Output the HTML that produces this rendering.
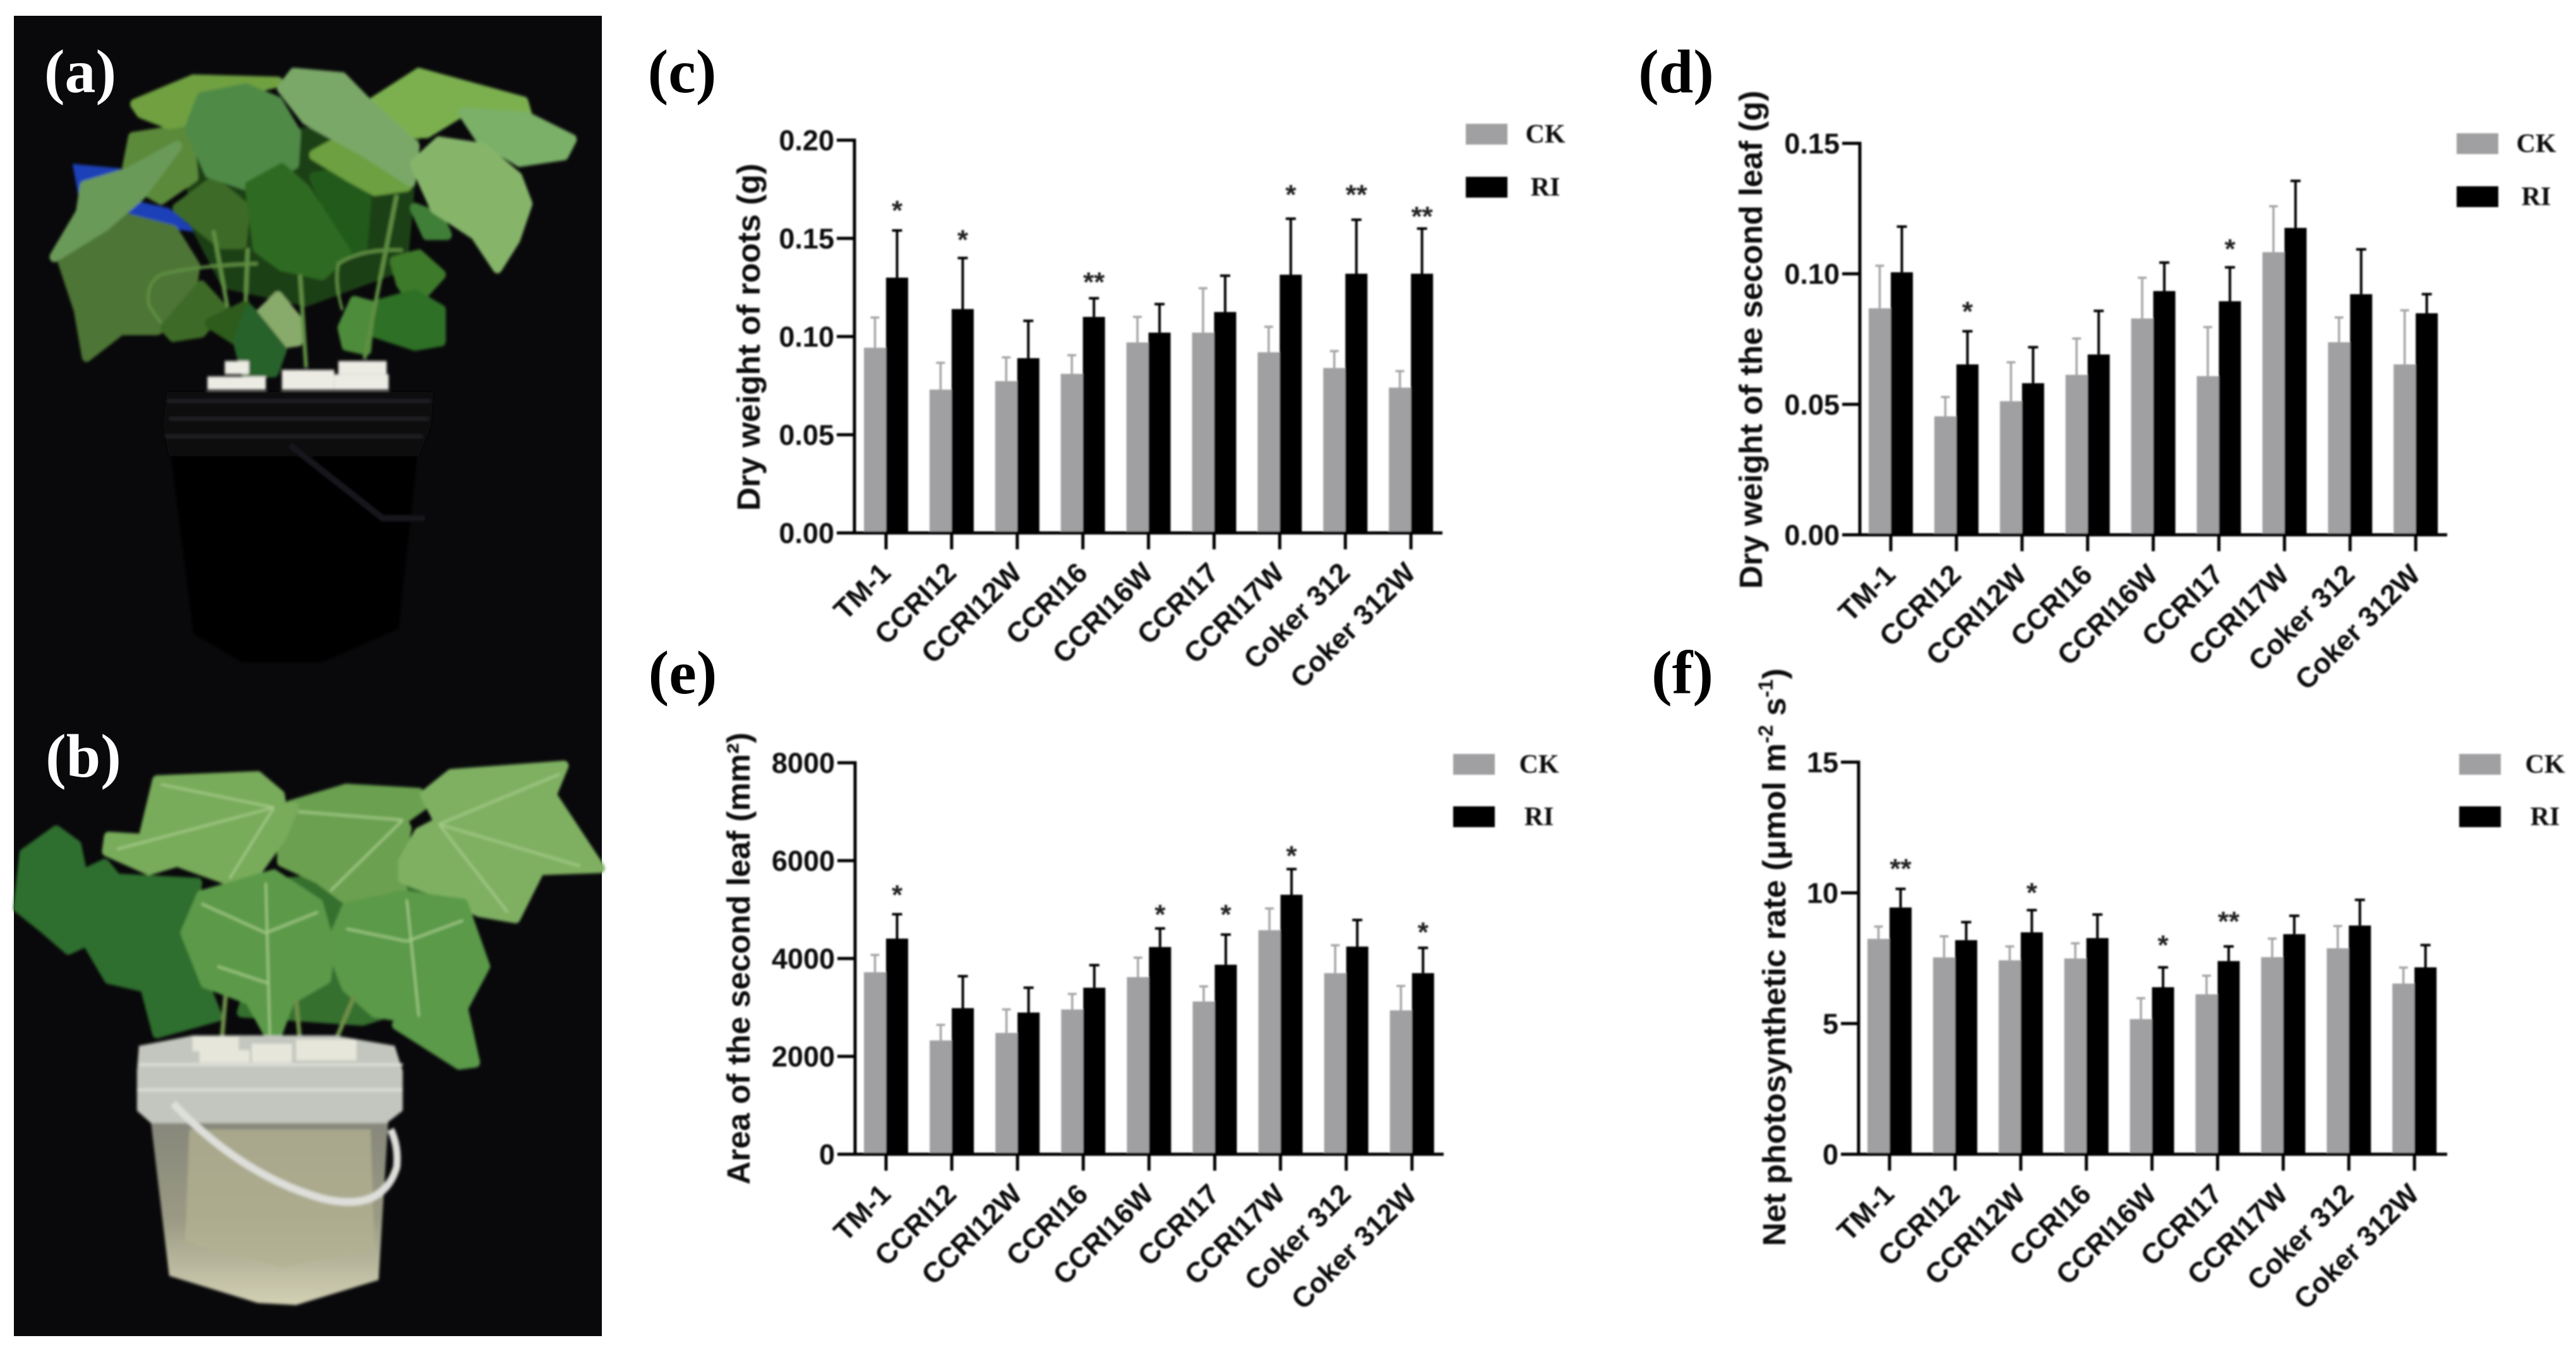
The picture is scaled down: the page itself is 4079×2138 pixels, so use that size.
<!DOCTYPE html>
<html lang="en">
<head>
<meta charset="utf-8">
<title>Cotton seedling root-restriction figure</title>
<style>
html,body{margin:0;padding:0;background:#fff;}
body{width:4079px;height:2138px;overflow:hidden;}
svg{position:absolute;left:0;top:0;display:block;}
.sans{font-family:"Liberation Sans",Arial,sans-serif;font-weight:700;}
.serif{font-family:"Liberation Serif","Times New Roman",serif;font-weight:700;}
.leafy polygon{stroke-width:24;stroke-linejoin:round;}
</style>
</head>
<body>
<svg id="figure" xmlns="http://www.w3.org/2000/svg" width="4079" height="2138" viewBox="0 0 4079 2138">
  <defs>
    <filter id="soft" x="-5%" y="-5%" width="110%" height="110%"><feGaussianBlur stdDeviation="3.5"/></filter>
    <filter id="softChart" x="-5%" y="-5%" width="110%" height="110%"><feGaussianBlur stdDeviation="1.2"/></filter>
    <linearGradient id="tubBody" x1="0" y1="0" x2="0" y2="1">
      <stop offset="0" stop-color="#85857a"/><stop offset="0.55" stop-color="#9a9a84"/><stop offset="1" stop-color="#d3d1b4"/>
    </linearGradient>
  </defs>
  <rect x="0" y="0" width="4079" height="2138" fill="#ffffff"/>

  <g>
    <rect x="22" y="25" width="931" height="2091" fill="#09090b"/>
  </g>

  <g transform="scale(0.63776,0.70151)" filter="url(#soft)">
    <polygon points="180,370 300,380 320,450 420,470 490,525 420,515 300,475 200,470" fill="#1c3fb8"/>
    <g class="leafy">
      <polygon points="470,300 1030,300 1000,600 760,680 560,640 480,500" fill="#1d4015"/>
      <polygon points="155,590 300,490 430,520 485,600 470,700 390,745 300,745 215,805 195,700" fill="#4d7535"/>
      <polygon points="315,380 330,310 470,290 480,400 400,450 340,420" fill="#5c8a3a"/>
      <polygon points="135,580 200,480 210,420 320,390 440,330 350,440 260,510" fill="#6a9a58"/>
      <polygon points="335,235 480,180 690,185 600,205 480,270 420,280 350,255" fill="#6fa040"/>
      <polygon points="440,470 530,410 610,470 600,550 550,550 480,500" fill="#3c6a25"/>
      <polygon points="470,290 500,220 610,200 690,230 735,300 730,370 620,420 520,390" fill="#4f8a46"/>
      <polygon points="780,400 850,390 910,450 900,560 860,570" fill="#245a1c"/>
      <polygon points="620,420 700,380 760,430 860,570 800,620 700,600 640,560" fill="#2f6a20"/>
      <polygon points="780,350 840,320 1010,420 930,430 870,400" fill="#6ca040"/>
      <polygon points="920,235 1040,165 1300,230 1310,262 1150,250 1060,300 1000,300" fill="#7cb050"/>
      <polygon points="700,200 730,165 850,175 920,240 1030,330 1020,410 900,340 760,270" fill="#7aa868"/>
      <polygon points="1150,255 1310,265 1420,315 1400,350 1290,365 1190,310" fill="#7ab068"/>
      <polygon points="1030,470 1090,490 1110,530 1060,530" fill="#3f7f38"/>
      <polygon points="1030,370 1090,320 1200,335 1285,400 1310,460 1280,540 1235,605 1180,530 1080,470" fill="#86b56a"/>
      <polygon points="980,590 1040,575 1095,620 1030,685 995,640" fill="#3e7a2c"/>
      <polygon points="930,690 1030,665 1095,700 1095,770 1030,780 930,750" fill="#2e7028"/>
      <polygon points="850,740 880,680 920,690 910,790 860,780" fill="#4e8c3a"/>
      <polygon points="410,740 500,645 550,695 500,750 430,760" fill="#3e6a28"/>
      <polygon points="645,710 690,670 745,730 740,770 700,775" fill="#88aa6a"/>
      <polygon points="520,730 610,690 620,720 590,770" fill="#2d5c1e"/>
      <polygon points="590,770 620,700 700,790 680,840 610,840" fill="#27622a"/>
    </g>
    <g fill="none" stroke="#5f8f42" stroke-width="10">
      <path d="M745,620 L760,830"/>
      <path d="M985,440 L905,810"/>
      <path d="M530,520 L565,695"/>
      <path d="M615,560 L610,680"/>
      <path d="M640,595 Q480,600 400,620 Q360,640 370,690 L400,730" stroke-width="7"/>
      <path d="M1000,565 Q900,560 840,595 Q830,640 850,700" stroke-width="7"/>
    </g>
    <g fill="#ecece4">
      <rect x="558" y="815" width="60" height="30"/>
      <rect x="840" y="815" width="120" height="30"/>
      <rect x="515" y="850" width="145" height="30"/>
      <rect x="700" y="835" width="130" height="45"/>
      <rect x="830" y="845" width="135" height="35"/>
    </g>
    <g>
      <path d="M420,1000 L1040,1000 L990,1420 L800,1495 L600,1495 L480,1430 Z" fill="#020203"/>
      <path d="M415,885 L1075,885 L1070,960 L1040,1030 L420,1030 L405,960 Z" fill="#0b0b0d"/>
      <path d="M415,905 L1070,905 M420,945 L1065,945 M410,985 L1050,985" stroke="#232326" stroke-width="7" fill="none"/>
      <path d="M720,1005 L950,1170 L1055,1170" stroke="#17171a" stroke-width="14" fill="none"/>
    </g>
  </g>

  <g transform="translate(0,1100) scale(0.63776,0.66225)" filter="url(#soft)">
    <g class="leafy">
      <polygon points="45,510 60,380 140,325 190,360 205,430 260,405 290,440 490,450 470,600 540,770 390,810 360,700 270,680 215,590 170,610 110,560" fill="#2f6e2e"/>
      <polygon points="700,450 1100,420 1160,700 900,780 600,760" fill="#346f2e"/>
      <polygon points="720,265 860,225 1040,235 1050,265 1000,300 1010,320 990,430 1000,470 860,490 790,440 700,400 700,340" fill="#6aa050"/>
      <polygon points="1055,240 1120,190 1400,170 1370,240 1490,415 1340,420 1280,535 1190,520 1080,470 1000,440 1000,400 1040,330 1090,305" fill="#7fb062"/>
      <polygon points="390,205 640,195 695,240 700,270 730,270 700,340 640,420 570,445 440,400 370,420 265,375 270,340 355,345" fill="#78ab5a"/>
      <polygon points="820,600 860,510 1000,480 1150,500 1205,650 1150,750 1180,880 1140,885 985,790 1050,780 930,760 860,700" fill="#5a9a48"/>
      <polygon points="460,570 500,480 680,430 790,500 820,600 810,680 720,730 680,835 620,730 510,690" fill="#5c9a4a"/>
    </g>
    <g fill="none" stroke="#a4cb88" stroke-width="5">
      <path d="M660,450 L670,820 M660,570 L500,500 M660,570 L790,520 M665,690 L540,650"/>
      <path d="M1010,490 L1040,770 M1010,590 L860,560 M1010,590 L1150,540"/>
      <path d="M1090,310 L1260,520 M1090,310 L1390,190 M1090,310 L1440,410"/>
      <path d="M680,270 L570,440 M680,270 L400,215 M680,270 L290,370"/>
      <path d="M1000,300 L820,470 M1000,300 L740,280"/>
    </g>
    <g fill="none" stroke="#6d8f4a" stroke-width="11">
      <path d="M560,720 L550,835"/>
      <path d="M735,730 L745,830"/>
      <path d="M880,720 L830,835"/>
    </g>
    <g>
      <polygon points="372,1000 965,1000 940,1400 735,1460 640,1455 420,1390" fill="url(#tubBody)"/>
      <polygon points="470,1040 920,1040 930,1330 700,1370 460,1310" fill="#b3b292" opacity="0.75"/>
      <polygon points="345,840 480,815 830,815 980,840 1000,900 1000,995 960,1025 375,1025 340,995 340,900" fill="#c2c6be"/>
      <path d="M345,885 L1000,885 M340,945 L1000,945" stroke="#dfe1da" stroke-width="6" fill="none"/>
    </g>
    <g fill="#e6e6da">
      <rect x="478" y="818" width="115" height="35"/>
      <rect x="495" y="850" width="125" height="30"/>
      <rect x="625" y="835" width="100" height="45"/>
      <rect x="735" y="825" width="150" height="50"/>
    </g>
    <path d="M430,978 Q600,1150 800,1205 Q950,1240 985,1130 Q990,1080 970,1040" fill="none" stroke="#dedfda" stroke-width="18"/>
  </g>

  <g class="serif" font-size="98">
    <text x="127" y="146" text-anchor="middle" fill="#ffffff">(a)</text>
    <text x="132" y="1230" text-anchor="middle" fill="#ffffff">(b)</text>
    <text x="1080" y="146" text-anchor="middle" fill="#000000">(c)</text>
    <text x="2654" y="146" text-anchor="middle" fill="#000000">(d)</text>
    <text x="1081" y="1098" text-anchor="middle" fill="#000000">(e)</text>
    <text x="2664" y="1098" text-anchor="middle" fill="#000000">(f)</text>
  </g>

  <g id="charts" filter="url(#softChart)"></g>
</svg>

<script>
// ---------- shared data ----------
const categoriesCE = ['TM-1','CCRI12','CCRI12W','CCRI16','CCRI16W','CCRI17','CCRI17W','Coker 312','Coker 312W'];
const seriesNames = ['CK','RI'];

// ---------- panel c : dry weight of roots ----------
const cTickLabels = ['0.00','0.05','0.10','0.15','0.20'];
const cCk    = [0.0943,0.0730,0.0773,0.0810,0.0970,0.1020,0.0920,0.0840,0.0740];
const cCkErr = [0.1097,0.0866,0.0894,0.0905,0.1100,0.1246,0.1050,0.0926,0.0824];
const cRi    = [0.1300,0.1140,0.0890,0.1100,0.1020,0.1125,0.1315,0.1320,0.1320];
const cRiErr = [0.1540,0.1400,0.1080,0.1195,0.1165,0.1310,0.1600,0.1595,0.1550];
const cStars      = ['*','*','','**','','','*','**','**'];
const cStarLevels = [0.1676,0.1526,0,0.1311,0,0,0.1755,0.1755,0.1644];

// ---------- panel d : dry weight of the second leaf ----------
const dTickLabels = ['0.00','0.05','0.10','0.15'];
const dCk    = [0.0868,0.0454,0.0512,0.0613,0.0829,0.0608,0.1083,0.0738,0.0653];
const dCkErr = [0.1031,0.0528,0.0661,0.0752,0.0985,0.0796,0.1259,0.0833,0.0860];
const dRi    = [0.1006,0.0653,0.0581,0.0691,0.0934,0.0895,0.1176,0.0922,0.0849];
const dRiErr = [0.1181,0.0780,0.0719,0.0858,0.1043,0.1025,0.1356,0.1094,0.0922];
const dStars      = ['','*','','','','*','','',''];
const dStarLevels = [0,0.0881,0,0,0,0.1120,0,0,0];

// ---------- panel e : area of the second leaf ----------
const eTickLabels = ['0','2000','4000','6000','8000'];
const eCk    = [3720,2326,2480,2959,3620,3122,4579,3701,2941];
const eCkErr = [4072,2643,2959,3276,4018,3430,5023,4271,3439];
const eRi    = [4407,2986,2896,3403,4235,3873,5303,4244,3701];
const eRiErr = [4905,3638,3403,3864,4615,4489,5828,4787,4217];
const eStars      = ['*','','','','*','*','*','','*'];
const eStarLevels = [5430,0,0,0,5032,5032,6235,0,4670];

// ---------- panel f : net photosynthetic rate ----------
const fTickLabels = ['0','5','10','15'];
const fCk    = [8.24,7.53,7.42,7.49,5.17,6.12,7.54,7.88,6.53];
const fCkErr = [8.71,8.34,7.95,8.07,5.97,6.83,8.25,8.73,7.14];
const fRi    = [9.44,8.19,8.49,8.27,6.39,7.39,8.42,8.75,7.15];
const fRiErr = [10.15,8.88,9.34,9.17,7.15,7.95,9.12,9.73,8.00];
const fStars      = ['**','','*','','*','**','','',''];
const fStarLevels = [11.17,0,10.25,0,8.25,9.15,0,0,0];

// ---------- leaf outlines take their own fill colour, which rounds and fattens them ----------
document.querySelectorAll('.leafy polygon').forEach(function (leaf) {
  leaf.setAttribute('stroke', leaf.getAttribute('fill'));
});

// ---------- drawing ----------
const SVG_NS = 'http://www.w3.org/2000/svg';
const chartsRoot = document.getElementById('charts');

function make(tag, attrs, parent, text) {
  const node = document.createElementNS(SVG_NS, tag);
  for (const key in attrs) node.setAttribute(key, attrs[key]);
  if (text !== undefined) node.textContent = text;
  parent.appendChild(node);
  return node;
}

function drawChart(p) {
  const group = make('g', {}, chartsRoot);
  
  

  const tickValues = p.ticks.map(Number);
  const maxValue = tickValues[tickValues.length - 1];
  const yScale = v => p.y0 - (v / maxValue) * (p.y0 - p.yTop);
  const xScale = i => p.x1 + i * p.step;
  const barW = 35;

  // bars and error bars
  p.ck.forEach((v, i) => {
    const cx = xScale(i) - barW / 2;
    const whisker = make('path', {
      d: 'M' + cx + ' ' + yScale(v) + 'V' + yScale(p.ckErr[i]) + 'm-7 0h14',
      stroke: '#a6a6a9', 'stroke-width': 3.5, fill: 'none'
    }, group);
    
    
    const bar = make('rect', {
      x: xScale(i) - barW, y: yScale(v), width: barW, height: p.y0 - yScale(v), fill: '#a0a0a3'
    }, group);
    
    
  });
  p.ri.forEach((v, i) => {
    const cx = xScale(i) + barW / 2;
    const whisker = make('path', {
      d: 'M' + cx + ' ' + yScale(v) + 'V' + yScale(p.riErr[i]) + 'm-8 0h16',
      stroke: '#000', 'stroke-width': 4, fill: 'none'
    }, group);
    
    
    const bar = make('rect', {
      x: xScale(i), y: yScale(v), width: barW, height: p.y0 - yScale(v), fill: '#000'
    }, group);
    
    
  });

  // significance marks
  p.stars.forEach((s, i) => {
    if (!s) return;
    const mark = make('text', {
      x: xScale(i) + barW / 2, y: yScale(p.starLevels[i]) + 25, 'text-anchor': 'middle',
      'font-size': 44, fill: '#222', class: 'sans'
    }, group, s);
    
    
  });

  // axes
  const yAxis = make('line', {
    x1: p.x0, x2: p.x0, y1: p.yTop - 2.5, y2: p.y0 + 2.5, stroke: '#000', 'stroke-width': 5
  }, group);
  
  
  const xAxis = make('line', {
    x1: p.x0 - 28, x2: p.xEnd, y1: p.y0, y2: p.y0, stroke: '#000', 'stroke-width': 5
  }, group);
  
  

  // y ticks
  p.ticks.forEach((label, i) => {
    const ty = yScale(tickValues[i]);
    const tick = make('line', {
      x1: p.x0 - 28, x2: p.x0, y1: ty, y2: ty, stroke: '#000', 'stroke-width': 5
    }, group);
    
    
    const txt = make('text', {
      x: p.x0 - 32, y: ty + 16, 'text-anchor': 'end', 'font-size': 45, fill: '#111', class: 'sans'
    }, group, label);
    
    
  });

  // x ticks and labels
  p.categories.forEach((label, i) => {
    const tx = xScale(i);
    const tick = make('line', {
      x1: tx, x2: tx, y1: p.y0, y2: p.y0 + 26, stroke: '#000', 'stroke-width': 5
    }, group);
    
    
    const txt = make('text', {
      transform: 'translate(' + (tx + 10) + ',' + (p.y0 + 66) + ') rotate(-45)',
      'text-anchor': 'end', 'font-size': 45, fill: '#111', class: 'sans'
    }, group, label);
    
    
  });

  // y axis title
  const title = make('text', {
    transform: 'translate(' + p.titleX + ',' + p.titleY + ') rotate(-90)',
    'text-anchor': 'middle', 'font-size': 51, fill: '#111', class: 'sans',
    textLength: p.titleLen, lengthAdjust: 'spacingAndGlyphs'
  }, group);
  
  
  p.title.forEach(seg => {
    const span = make('tspan', seg.sup ? { 'font-size': 32, dy: -20 } : (seg.after ? { dy: 20 } : {}), title, seg.t);
    
    
  });

  // legend
  seriesNames.forEach((name, i) => {
    const ly = i === 0 ? p.legendY : p.legendY + p.legendGap;
    const swatch = make('rect', {
      x: p.legendX, y: ly, width: 66, height: 33, fill: i === 0 ? '#a0a0a3' : '#000'
    }, group);
    
    
    const txt = make('text', {
      x: p.legendTextX, y: ly + 30, 'text-anchor': 'middle', 'font-size': 42, fill: '#111', class: 'serif'
    }, group, name);
    
    
  });
}

drawChart({
  id: 'c', categories: categoriesCE, ticks: cTickLabels, ck: cCk, ckErr: cCkErr, ri: cRi, riErr: cRiErr,
  stars: cStars, starLevels: cStarLevels,
  x0: 1353, xEnd: 2284, x1: 1403, step: 103.9, y0: 844, yTop: 222,
  title: [{ t: 'Dry weight of roots (g)' }], titleX: 1203, titleY: 534, titleLen: 550,
  legendX: 2321, legendY: 196, legendGap: 84, legendTextX: 2447
});
drawChart({
  id: 'd', categories: categoriesCE, ticks: dTickLabels, ck: dCk, ckErr: dCkErr, ri: dRi, riErr: dRiErr,
  stars: dStars, starLevels: dStarLevels,
  x0: 2945, xEnd: 3875, x1: 2994, step: 103.9, y0: 847, yTop: 227,
  title: [{ t: 'Dry weight of the second leaf (g)' }], titleX: 2790, titleY: 538, titleLen: 789,
  legendX: 3890, legendY: 211, legendGap: 84, legendTextX: 4016
});
drawChart({
  id: 'e', categories: categoriesCE, ticks: eTickLabels, ck: eCk, ckErr: eCkErr, ri: eRi, riErr: eRiErr,
  stars: eStars, starLevels: eStarLevels,
  x0: 1354, xEnd: 2286, x1: 1403, step: 104.1, y0: 1828, yTop: 1208,
  title: [{ t: 'Area of the second leaf (mm²)' }], titleX: 1187, titleY: 1518, titleLen: 716,
  legendX: 2301, legendY: 1194, legendGap: 83, legendTextX: 2437
});
drawChart({
  id: 'f', categories: categoriesCE, ticks: fTickLabels, ck: fCk, ckErr: fCkErr, ri: fRi, riErr: fRiErr,
  stars: fStars, starLevels: fStarLevels,
  x0: 2943, xEnd: 3875, x1: 2992, step: 103.9, y0: 1828, yTop: 1207,
  title: [
    { t: 'Net photosynthetic rate (μmol m' }, { t: '-2', sup: true },
    { t: ' s', after: true }, { t: '-1', sup: true }, { t: ')', after: true }
  ],
  titleX: 2827, titleY: 1516, titleLen: 915,
  legendX: 3894, legendY: 1194, legendGap: 83, legendTextX: 4030
});
</script>
</body>
</html>
